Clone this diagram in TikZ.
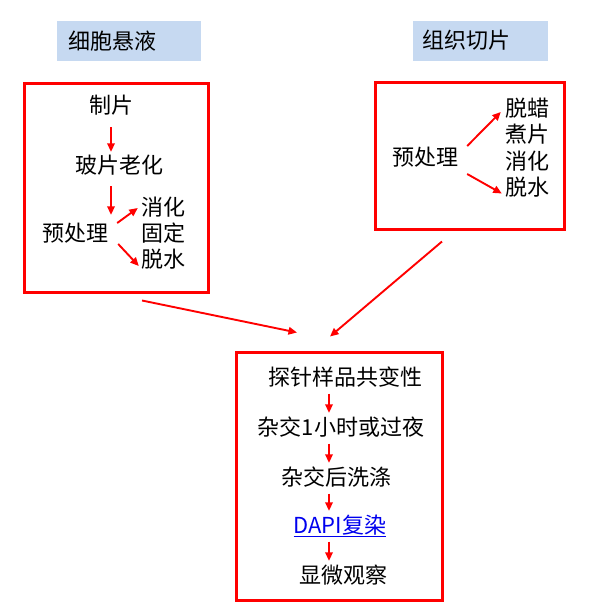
\documentclass[tikz,border=0pt]{standalone}
\usepackage{fontspec}
\newfontfamily\cjk{Noto Sans CJK SC}
\usetikzlibrary{arrows.meta,calc}
\definecolor{tagblue}{HTML}{C6D9F1}
\definecolor{linkblue}{HTML}{0000EE}
\tikzset{
  step text/.style={font=\cjk\fontsize{22}{26}\selectfont, inner sep=0pt,
    text height=19pt, text depth=3pt},
  frame/.style={draw=red, line width=3pt, inner sep=0pt},
  tag/.style={fill=tagblue, anchor=west, minimum height=40pt, align=left,
    inner ysep=0pt, font=\cjk\fontsize{22}{26}\selectfont},
  flow/.style={draw=red, line width=1.9pt, -{Triangle[length=8.5pt,width=7.5pt]}}
}

\begin{document}
\begin{tikzpicture}[x=1pt,y=-1pt]
  \useasboundingbox (0,0) rectangle (589,611);
  % headings
  \node[tag, text width=122pt, inner xsep=11pt] (celltag) at (57,41) {细胞悬液};
  \node[tag, text width=117pt, inner xsep=9pt] (tissuetag) at (413,40.5) {组织切片};
  % frames
  \node[frame, minimum width=184pt, minimum height=209pt] (cellbox) at (116.5,188) {};
  \node[frame, minimum width=189pt, minimum height=147pt] (tissuebox) at (470,156) {};
  \node[frame, minimum width=206pt, minimum height=248pt] (probebox) at (339.5,476.5) {};

  % cell suspension
  \node[step text] (zhipian) at (111,105) {制片};
  \node[step text] (bopian) at (119,165) {玻片老化};
  \node[step text] (yuchuli) at (75,233) {预处理};
  \node[step text] (xiaohua) at (163,207) {消化};
  \node[step text] (guding) at (163,233) {固定};
  \node[step text] (tuoshui) at (163,259) {脱水};
  \draw[flow] ([yshift=-11pt]zhipian.south) -- ([yshift=2pt]zhipian.south |- bopian.north);
  \draw[flow] ([yshift=-10pt]zhipian.south |- bopian.south) -- ([yshift=7pt]zhipian.south |- yuchuli.north);
  \draw[flow] ([xshift=9pt,yshift=10pt]yuchuli.east) -- ([xshift=-3pt,yshift=-1pt]xiaohua.west);
  \draw[flow] ([xshift=10pt,yshift=-11pt]yuchuli.east) -- ([xshift=-2pt,yshift=-7pt]tuoshui.west);

  % tissue section
  \node[step text] (pretreat) at (425,157) {预处理};
  \node[step text] (tuola) at (527,108) {脱蜡};
  \node[step text] (zhupian) at (527,134.5) {煮片};
  \node[step text] (digest) at (527,161) {消化};
  \node[step text] (dehydrate) at (527,187.5) {脱水};
  \draw[flow] ([xshift=9pt,yshift=11pt]pretreat.east) -- ([xshift=-4pt,yshift=-4pt]tuola.west);
  \draw[flow] ([xshift=9pt,yshift=-17pt]pretreat.east) -- ([xshift=-3pt,yshift=-6pt]dehydrate.west);

  % hybridisation
  \coordinate (axis) at (329,0);
  \node[step text] (b1) at (345,377) {探针样品共变性};
  \node[step text] (b2) at (341,427) {杂交1小时或过夜};
  \node[step text] (b3) at (336,477) {杂交后洗涤};
  \node[step text, text=linkblue] (b4) at (340,525) {\underline{DAPI复染}};
  \node[step text] (b5) at (343,575) {显微观察};
  \foreach \a/\b in {b1/b2,b2/b3,b3/b4,b4/b5}
    \draw[flow] ([yshift=-5.5pt]axis |- \a.south) -- ([yshift=3pt]axis |- \b.north);

  \draw[flow] ([xshift=25.5pt,yshift=-6.5pt]cellbox.south) -- ([xshift=-42.5pt,yshift=18.5pt]probebox.north);
  \draw[flow] ([xshift=-28pt,yshift=-10.5pt]tissuebox.south) -- ([xshift=-9.5pt,yshift=14.5pt]probebox.north);
\end{tikzpicture}
\end{document}
